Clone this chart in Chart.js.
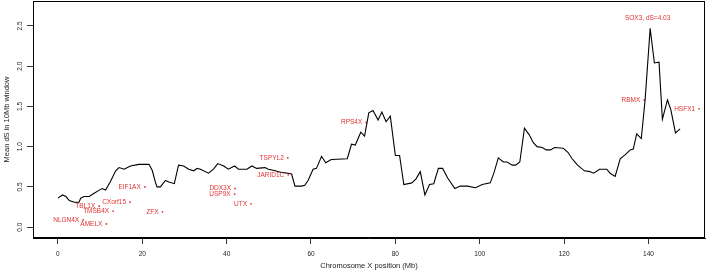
<!DOCTYPE html>
<html>
<head>
<meta charset="utf-8">
<script src="https://cdn.jsdelivr.net/npm/chart.js@4.4.1/dist/chart.umd.min.js"></script>
<style>
body{margin:0;background:#fff;}
#wrap{width:707px;height:271px;position:relative;}
</style>
</head>
<body>
<div id="wrap"><canvas id="myChart"></canvas></div>
<script>
// window position (Mb) and mean dS
let posMb = [0,1.1,1.9,2.7,3.9,5,5.4,6.2,7.4,8.6,9.8,10.5,11.3,12.4,13.7,14.5,15.7,17.2,19.2,21.6,22.4,23.1,23.5,24.3,25.5,26.3,27.6,28.6,29.8,31,32.2,33,33.8,35.7,36.9,37.9,39.3,40.4,41.9,42.8,44.8,46,47.1,49.1,49.9,51.5,53,54.6,55.4,56.2,57.8,58.5,59.3,60.5,61.3,62.5,63.5,64.8,68.6,69.6,70.5,71.8,72.7,73.7,74.7,75.9,76.8,77.8,78.8,80,81,82,83.9,84.9,85.9,87,88.1,89.1,90.2,91.2,92.4,94.1,95.4,97.1,99,100.6,102.5,103.4,104.4,105.6,106.5,107.7,108.5,109.5,110.6,111.7,112.7,113.6,114.8,115.8,116.8,117.7,119.8,120.9,121.9,123.2,124.8,126.1,127,128.4,130.1,130.9,132.1,133.3,134.5,135.7,136.4,137.2,138.3,139.2,140.4,141.4,142.5,143.3,144.5,145.3,146.4,147.5];
let meanDs = [0.36,0.40,0.38,0.33,0.31,0.31,0.36,0.38,0.38,0.42,0.46,0.48,0.46,0.56,0.70,0.74,0.72,0.76,0.78,0.78,0.70,0.56,0.50,0.50,0.58,0.56,0.54,0.77,0.76,0.72,0.70,0.73,0.72,0.67,0.72,0.79,0.76,0.72,0.76,0.72,0.72,0.76,0.73,0.74,0.72,0.70,0.68,0.67,0.66,0.51,0.51,0.52,0.58,0.72,0.73,0.88,0.80,0.84,0.85,1.03,1.02,1.18,1.13,1.42,1.45,1.33,1.43,1.31,1.38,0.89,0.89,0.53,0.55,0.60,0.69,0.40,0.53,0.54,0.73,0.73,0.61,0.48,0.51,0.51,0.49,0.53,0.55,0.68,0.86,0.81,0.81,0.77,0.77,0.81,1.23,1.15,1.05,1.00,0.99,0.96,0.96,0.99,0.98,0.93,0.85,0.77,0.70,0.69,0.67,0.72,0.72,0.67,0.63,0.85,0.90,0.96,0.97,1.16,1.10,1.58,2.47,2.04,2.05,1.34,1.58,1.46,1.17,1.22];

// single genes (red dots with names)
let geneNames = ["NLGN4X","AMELX","TBL1X","TMSB4X","CXorf15","EIF1AX","ZFX","DDX3X","USP9X","UTX","JARID1C","TSPYL2","RPS4X","RBMX","HSFX1"];
let geneMb = [6.0,11.5,9.8,13.1,17.1,20.6,24.8,42.0,41.9,45.8,54.6,54.5,73.1,139.0,152.0];
let geneDs = [0.09,0.04,0.26,0.20,0.31,0.50,0.19,0.48,0.41,0.29,0.65,0.86,1.30,1.58,1.47];

// SOX3 sits off the top, so only its note is shown
let offName = "SOX3, dS=4.03";
let offMb = 139.8;
let offDs = 2.60;

let xTicks = [0,20,40,60,80,100,120,140];
let yTicks = [0,0.5,1,1.5,2,2.5];

let red = "rgb(226,50,50)";
let fam = "'Liberation Sans', Arial, Helvetica, sans-serif";

let linePts = posMb.map((x,i)=>({x:x,y:meanDs[i]}));
let genePts = geneMb.map((x,i)=>({x:x,y:geneDs[i]}));

// box round the plot + gene names
let extras = {
    id:"extras",
    afterDraw(chart){
        let c = chart.ctx;
        let a = chart.chartArea;
        let xs = chart.scales.x;
        let ys = chart.scales.y;
        c.save();
        c.strokeStyle = "#000";
        c.lineWidth = 1;
        c.strokeRect(a.left+0.5,a.top+0.5,a.right-a.left-1,a.bottom-a.top-1);

        c.fillStyle = red;
        c.font = "6.5px " + fam;
        c.textAlign = "right";
        c.textBaseline = "middle";
        for(let i=0;i<geneNames.length;i++){
            let px = xs.getPixelForValue(geneMb[i]);
            let py = ys.getPixelForValue(geneDs[i]);
            c.fillText(geneNames[i],px-4,py);
        }
        c.textAlign = "center";
        c.fillText(offName,xs.getPixelForValue(offMb),ys.getPixelForValue(offDs));
        c.restore();
    }
};

// keep chart.js from adding room for the end labels
function noPad(s){
    s.paddingTop = 0;
    s.paddingBottom = 0;
    s.paddingLeft = 0;
    s.paddingRight = 0;
}

new Chart("myChart",{
    type:"line",
    data:{
        datasets:[{
            data:linePts,
            borderColor:"#000",
            borderWidth:1.1,
            pointRadius:0,
            pointHoverRadius:0,
            tension:0,
            fill:false
        },{
            type:"scatter",
            data:genePts,
            backgroundColor:red,
            borderColor:red,
            pointRadius:0.9,
            pointHoverRadius:0,
            borderWidth:0
        }]
    },
    plugins:[extras],
    options:{
        responsive:true,
        maintainAspectRatio:false,
        animation:false,
        events:[],
        layout:{autoPadding:false,padding:{left:0,right:2,top:1,bottom:0}},
        plugins:{legend:{display:false},tooltip:{enabled:false}},
        scales:{
            x:{
                type:"linear",
                min:-5.9,
                max:153.4,
                afterBuildTicks:(s)=>{s.ticks = xTicks.map(v=>({value:v}));},
                afterFit:(s)=>{s.height = 33; noPad(s);},
                grid:{drawOnChartArea:false,drawTicks:true,tickLength:6,color:"#000",lineWidth:0.8},
                border:{display:true,color:"#000",width:1},
                ticks:{color:"#222",font:{family:fam,size:6.5},padding:6,maxRotation:0,autoSkip:false,callback:(v)=>String(v)},
                title:{display:true,text:"Chromosome X position (Mb)",color:"#222",font:{family:fam,size:7.5},padding:{top:0,bottom:1}}
            },
            y:{
                type:"linear",
                min:-0.135,
                max:2.81,
                afterBuildTicks:(s)=>{s.ticks = yTicks.map(v=>({value:v}));},
                afterFit:(s)=>{s.width = 33; noPad(s);},
                grid:{drawOnChartArea:false,drawTicks:true,tickLength:6,color:"#000",lineWidth:0.8},
                border:{display:true,color:"#000",width:1},
                ticks:{color:"#222",font:{family:fam,size:6.5},padding:2.5,minRotation:90,maxRotation:90,crossAlign:"center",autoSkip:false,callback:(v)=>v.toFixed(1)},
                title:{display:true,text:"Mean dS in 10Mb window",color:"#222",font:{family:fam,size:7.5},padding:{top:2.5,bottom:0}}
            }
        }
    }
});
</script>
</body>
</html>
